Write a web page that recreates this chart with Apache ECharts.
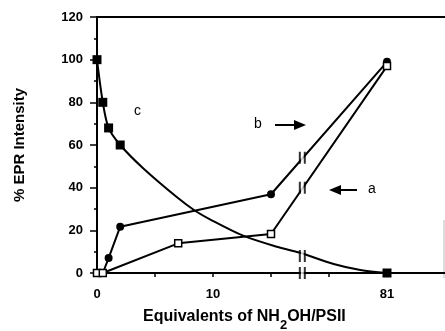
<!DOCTYPE html>
<html>
<head>
<meta charset="utf-8">
<script src="https://cdn.jsdelivr.net/npm/echarts@6/dist/echarts.min.js"></script>
<style>
html,body{margin:0;padding:0;background:#fff;}
#chart{width:445px;height:331px;}
</style>
</head>
<body>
<div id="chart"></div>
<script>
// ---- data (raw equivalents of NH2OH/PSII, % EPR intensity) ----
const aX = [0, 0.5, 7, 15, 81];
const aY = [0, 0, 13.9, 18.3, 97];
const bX = [0, 0.5, 1, 2, 15, 81];
const bY = [0, 0, 7, 21.7, 36.9, 99];
const cMarkX = [0, 0.5, 1, 2, 81];
const cMarkY = [100, 80, 68, 60, 0];
const cCurveX = [4, 6.9, 8.45, 9.7, 12.6, 15.5, 17.5, 76.4, 78.7];
const cCurveY = [49, 35.5, 29.2, 25.3, 17.5, 12.3, 9.5, 4.2, 1.4];
const breakX = 17.7;
const breakMarkY = [54, 40, 8, 0];
const xTickValues = [0, 5, 10, 15, 76, 81];
const xLabelValues = [0, 10, 81];
const yTicks = [0, 20, 40, 60, 80, 100, 120];

// broken x axis: values beyond the break are shifted left
const breakShift = 56;
const toAxis = v => v > breakX + 1e-6 ? v - breakShift : v;
const fromAxis = v => v > breakX + 1e-6 ? v + breakShift : v;

const pairs = (xs, ys) => xs.map((x, i) => [toAxis(x), ys[i]]);

// curve c: marked points + unmarked fitted-curve readings, sorted by x
const cAll = cMarkX.map((x, i) => ({ x, y: cMarkY[i], mark: true }))
  .concat(cCurveX.map((x, i) => ({ x, y: cCurveY[i], mark: false })))
  .sort((p, q) => p.x - q.x)
  .map(p => p.mark ? { value: [toAxis(p.x), p.y] } : { value: [toAxis(p.x), p.y], symbol: 'none' });

const FONT = 'Liberation Sans, Arial, sans-serif';
const chart = echarts.init(document.getElementById('chart'), null, { renderer: 'canvas' });

chart.setOption({
  animation: false,
  backgroundColor: '#fff',
  grid: { left: 97, right: 0, top: 17, bottom: 58, containLabel: false },
  xAxis: [{
    type: 'value', min: 0, max: 30,
    axisLine: { show: true, onZero: false, lineStyle: { color: '#000', width: 2 } },
    axisTick: { show: true, length: 4, customValues: xTickValues.map(toAxis), lineStyle: { color: '#000', width: 1.5 } },
    axisLabel: {
      customValues: xLabelValues.map(toAxis), margin: 15,
      formatter: v => String(Math.round(fromAxis(v))),
      color: '#000', fontFamily: FONT, fontSize: 13, fontWeight: 'bold'
    },
    splitLine: { show: false }
  }, {
    type: 'value', min: 0, max: 30, position: 'top',
    axisLine: { show: true, onZero: false, lineStyle: { color: '#000', width: 2 } },
    axisTick: { show: false }, axisLabel: { show: false }, splitLine: { show: false }
  }],
  yAxis: {
    type: 'value', min: 0, max: 120, interval: 20,
    axisLine: { show: true, lineStyle: { color: '#000', width: 2 } },
    axisTick: { show: true, length: 7, lineStyle: { color: '#000', width: 1.5 } },
    minorTick: { show: true, splitNumber: 2, length: 3, lineStyle: { color: '#000', width: 1.5 } },
    axisLabel: { margin: 14, color: '#000', fontFamily: FONT, fontSize: 13, fontWeight: 'bold',
      formatter: v => yTicks.includes(v) ? String(v) : '' },
    splitLine: { show: false },
    name: '% EPR Intensity', nameLocation: 'middle', nameGap: 70, nameRotate: 90,
    nameTextStyle: { color: '#000', fontFamily: FONT, fontSize: 15, fontWeight: 'bold' }
  },
  series: [
    {
      name: 'c', type: 'line', data: cAll, smooth: 0.3,
      symbol: 'rect', symbolSize: 9, showSymbol: true,
      lineStyle: { color: '#000', width: 2 }, itemStyle: { color: '#000' }, z: 3
    },
    {
      name: 'b', type: 'line', data: pairs(bX, bY),
      symbol: 'circle', symbolSize: 8,
      lineStyle: { color: '#000', width: 2 }, itemStyle: { color: '#000' }, z: 3
    },
    {
      name: 'a', type: 'line', data: pairs(aX, aY),
      symbol: 'rect', symbolSize: 7,
      lineStyle: { color: '#000', width: 2 },
      itemStyle: { color: '#fff', borderColor: '#000', borderWidth: 1.5 }, z: 4
    },
    {
      name: 'breakGap', type: 'scatter', clip: false, silent: true,
      data: breakMarkY.map(y => [toAxis(breakX), y]),
      symbol: 'rect', symbolSize: [3, 16], itemStyle: { color: '#fff' }, z: 5
    },
    {
      name: 'breakBars', type: 'scatter', clip: false, silent: true,
      data: breakMarkY.map(y => [toAxis(breakX), y]),
      symbol: 'path://M0,0H2V12H0Z M5,0H7V12H5Z', symbolSize: [7, 12],
      itemStyle: { color: '#000' }, z: 6
    }
  ],
  graphic: [
    { type: 'text', left: 134, top: 104, style: { text: 'c', font: '14px ' + FONT, fill: '#000' } },
    { type: 'text', left: 254, top: 117, style: { text: 'b', font: '14px ' + FONT, fill: '#000' } },
    { type: 'line', shape: { x1: 275, y1: 125, x2: 297, y2: 125 }, style: { stroke: '#000', lineWidth: 2 } },
    { type: 'polygon', shape: { points: [[294, 120], [306, 125], [294, 130]] }, style: { fill: '#000' } },
    { type: 'text', left: 368, top: 182, style: { text: 'a', font: '14px ' + FONT, fill: '#000' } },
    { type: 'line', shape: { x1: 338, y1: 190, x2: 357, y2: 190 }, style: { stroke: '#000', lineWidth: 2 } },
    { type: 'polygon', shape: { points: [[341, 185], [329, 190], [341, 195]] }, style: { fill: '#000' } },
    { type: 'line', shape: { x1: 444, y1: 220, x2: 444, y2: 278 }, style: { stroke: '#bbb', lineWidth: 1 } },
    {
      type: 'text', left: 143, top: 309,
      style: {
        text: '{m|Equivalents of NH}{s|2}{m|OH/PSII}',
        rich: {
          m: { font: 'bold 16px ' + FONT, fill: '#000' },
          s: { font: 'bold 13px ' + FONT, fill: '#000', padding: [16, 0, 0, 0] }
        }
      }
    }
  ]
});
</script>
</body>
</html>
